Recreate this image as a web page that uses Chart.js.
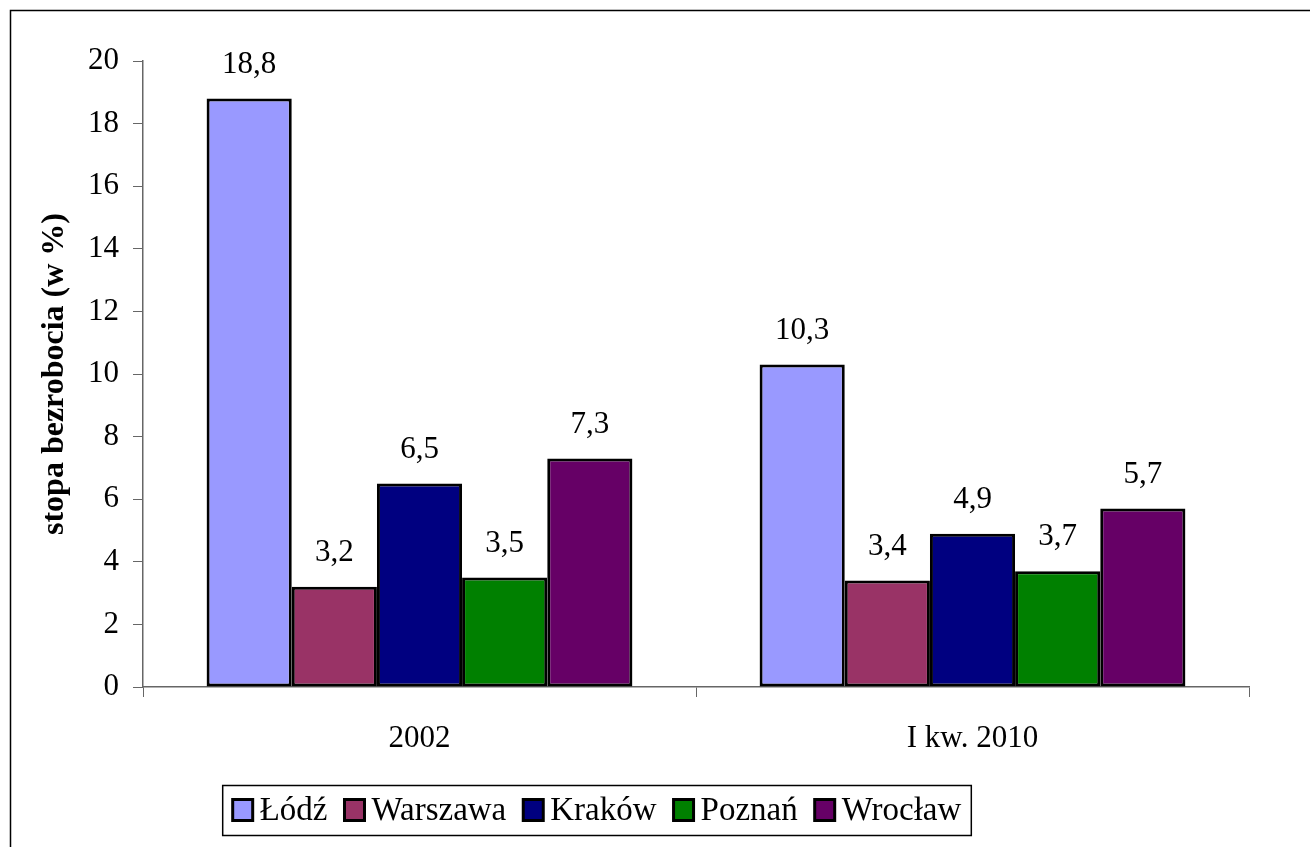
<!DOCTYPE html>
<html>
<head>
<meta charset="utf-8">
<script src="https://cdn.jsdelivr.net/npm/chart.js@4"></script>
<style>
  body { margin: 0; background: #fff; }
  #wrap { width: 1310px; height: 847px; }
</style>
</head>
<body>
<div id="wrap"><canvas id="myChart"></canvas></div>
<script>
const categories = ['2002', 'I kw. 2010']
const cities = ['Łódź', 'Warszawa', 'Kraków', 'Poznań', 'Wrocław']
const lodz = [18.8, 10.3]
const warszawa = [3.2, 3.4]
const krakow = [6.5, 4.9]
const poznan = [3.5, 3.7]
const wroclaw = [7.3, 5.7]
const yTicks = [0, 2, 4, 6, 8, 10, 12, 14, 16, 18, 20]

const colors = ['#9999ff', '#993366', '#000080', '#008000', '#660066']
const fontFamily = '"Liberation Serif", "Times New Roman", serif'

const seriesValues = [lodz, warszawa, krakow, poznan, wroclaw]

var datasets = []
for (var i = 0; i < cities.length; i++) {
	datasets.push({
		label: cities[i],
		data: seriesValues[i],
		backgroundColor: colors[i],
		borderColor: '#000',
		borderWidth: 3,
		borderSkipped: false,
		barPercentage: 1.0,
		categoryPercentage: 0.77
	})
}

// frame round the whole picture
const framePlugin = {
	id: 'frame',
	beforeDraw(chart) {
		var c = chart.ctx
		c.save()
		c.fillStyle = '#fff'
		c.fillRect(0, 0, chart.width, chart.height)
		c.strokeStyle = '#000'
		c.lineWidth = 1.5
		c.strokeRect(10.5, 10.5, chart.width + 20, chart.height + 20)
		c.restore()
	}
}

// value labels above the bars, comma decimals
const valueLabels = {
	id: 'valueLabels',
	afterDatasetsDraw(chart) {
		var c = chart.ctx
		c.save()
		c.font = '31px ' + fontFamily
		c.fillStyle = '#000'
		c.textAlign = 'center'
		c.textBaseline = 'middle'
		chart.data.datasets.forEach(function (ds, di) {
			chart.getDatasetMeta(di).data.forEach(function (bar, j) {
				c.fillText(ds.data[j].toFixed(1).replace('.', ','), bar.x, bar.y - 34)
			})
		})
		c.restore()
	}
}

// legend in a box under the chart
const boxLegend = {
	id: 'boxLegend',
	afterDraw(chart) {
		var c = chart.ctx
		var ds = chart.data.datasets
		c.save()
		c.font = '33px ' + fontFamily
		c.textBaseline = 'middle'
		var boxW = 20, boxH = 21, gapIn = 7, gapOut = 17
		var total = 0
		for (var i = 0; i < ds.length; i++) {
			total += boxW + gapIn + c.measureText(ds[i].label).width
			if (i < ds.length - 1) total += gapOut
		}
		var cx = 597, top = 785, bottom = 835
		var x = cx - total / 2
		c.strokeStyle = '#000'
		c.lineWidth = 1.5
		c.strokeRect(x - 10, top + 0.5, total + 20, bottom - top)
		var midY = (top + bottom) / 2
		for (var i = 0; i < ds.length; i++) {
			c.fillStyle = ds[i].backgroundColor
			c.fillRect(x, midY - boxH / 2, boxW, boxH)
			c.lineWidth = 3
			c.strokeRect(x, midY - boxH / 2, boxW, boxH)
			x += boxW + gapIn
			c.fillStyle = '#000'
			c.fillText(ds[i].label, x, midY + 1)
			x += c.measureText(ds[i].label).width + gapOut
		}
		c.restore()
	}
}

var ctx = document.getElementById('myChart')
var barChart = new Chart(ctx, {
	type: 'bar',
	data: {
		labels: categories,
		datasets: datasets
	},
	options: {
		responsive: true,
		maintainAspectRatio: false,
		animation: false,
		layout: {
			padding: { top: 61, right: 61, bottom: 0, left: 0 }
		},
		plugins: {
			legend: { display: false },
			tooltip: { enabled: false }
		},
		scales: {
			x: {
				offset: true,
				grid: {
					offset: true,
					drawOnChartArea: false,
					drawTicks: true,
					tickLength: 10,
					color: '#666'
				},
				border: { display: true, color: '#666', width: 1.5 },
				ticks: {
					color: '#000',
					font: { family: fontFamily, size: 31 },
					padding: 23
				},
				afterFit(scale) {
					scale.height = 160
				}
			},
			y: {
				min: 0,
				max: 20,
				afterBuildTicks(scale) {
					scale.ticks = yTicks.map(function (v) { return { value: v } })
				},
				grid: {
					drawOnChartArea: false,
					drawTicks: true,
					tickLength: 10,
					color: '#666'
				},
				border: { display: true, color: '#666', width: 1.5 },
				ticks: {
					color: '#000',
					font: { family: fontFamily, size: 31 },
					padding: 14
				},
				title: {
					display: true,
					text: 'stopa bezrobocia (w %)',
					color: '#000',
					font: { family: fontFamily, size: 32, weight: 'bold' },
					padding: { top: 36, bottom: 0 }
				},
				afterFit(scale) {
					scale.width = 143
				}
			}
		}
	},
	plugins: [framePlugin, valueLabels, boxLegend]
})
</script>
</body>
</html>
